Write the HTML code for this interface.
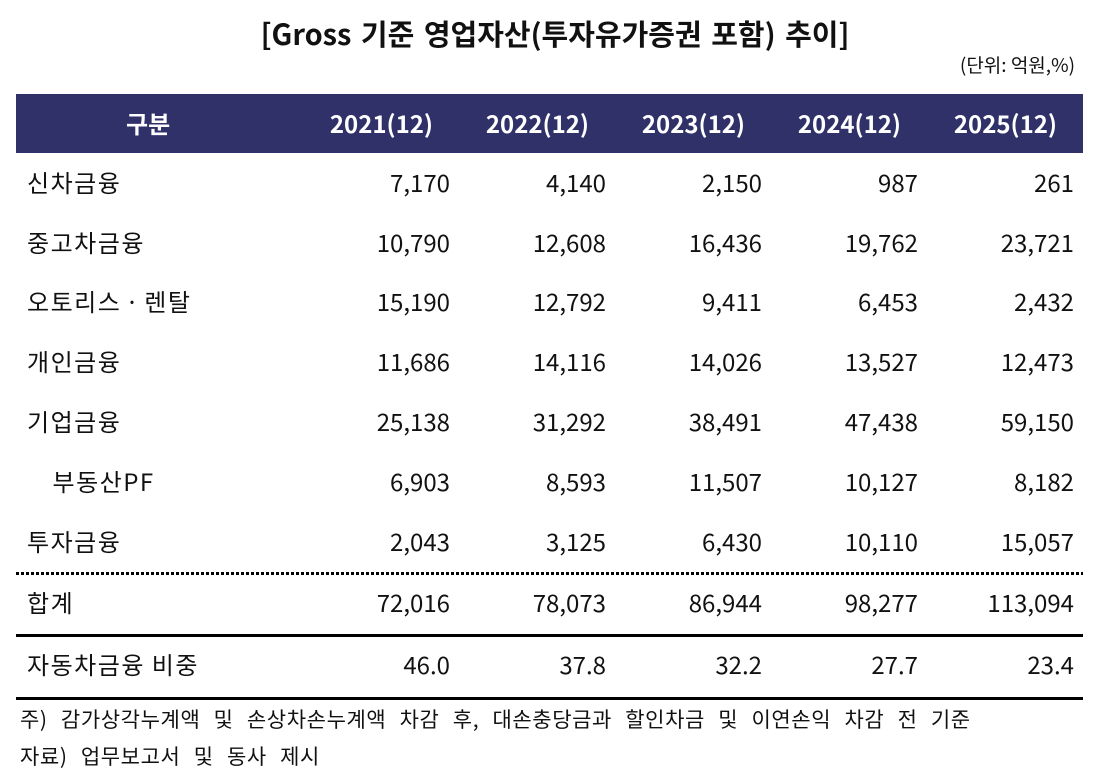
<!DOCTYPE html>
<html><head><meta charset="utf-8"><style>
body{margin:0;width:1110px;height:778px;background:#fff;font-family:"Noto Sans CJK KR","Liberation Sans",sans-serif;color:#111;position:relative;overflow:hidden}
.a{position:absolute;white-space:nowrap;line-height:1}
.t{left:0;width:1110px;text-align:center;top:19px;font-size:29px;font-weight:bold;word-spacing:3px}
.u{right:35px;top:55px;font-size:19px}
.hd{left:16px;top:94px;width:1067px;height:59px;background:#2f3168}
.h{color:#fff;font-weight:bold;font-size:24px;top:111px}
.c{font-size:24px;letter-spacing:1.5px}
.n{font-size:24px;text-align:right;width:150px}
.line{position:absolute;left:16px;width:1067px;height:3px;background:#000}
.dot{position:absolute;left:16px;width:1067px;height:3px;background:repeating-linear-gradient(90deg,#000 0 3px,transparent 3px 5px)}
.f{font-size:21px;left:20px;word-spacing:8px;letter-spacing:0.6px}
</style></head><body>
<div class="a t">[Gross 기준 영업자산(투자유가증권 포함) 추이]</div>
<div class="a u">(단위: 억원,%)</div>
<div class="a hd"></div>
<div class="a h" style="left:126px">구분</div>
<div class="a h" style="right:677px">2021(12)</div>
<div class="a h" style="right:521px">2022(12)</div>
<div class="a h" style="right:365px">2023(12)</div>
<div class="a h" style="right:209px">2024(12)</div>
<div class="a h" style="right:53px">2025(12)</div>
<div id="rows"></div>
<div class="dot" style="top:572px"></div>
<div class="line" style="top:634px"></div>
<div class="line" style="top:697px"></div>
<div class="a f" style="top:709px">주) 감가상각누계액 및 손상차손누계액 차감 후, 대손충당금과 할인차금 및 이연손익 차감 전 기준</div>
<div class="a f" style="top:746px">자료) 업무보고서 및 동사 제시</div>
<script>
var d=[["신차금융",["7,170","4,140","2,150","987","261"],183],
["중고차금융",["10,790","12,608","16,436","19,762","23,721"],243],
["오토리스·렌탈",["15,190","12,792","9,411","6,453","2,432"],302],
["개인금융",["11,686","14,116","14,026","13,527","12,473"],362],
["기업금융",["25,138","31,292","38,491","47,438","59,150"],422],
["　부동산PF",["6,903","8,593","11,507","10,127","8,182"],482],
["투자금융",["2,043","3,125","6,430","10,110","15,057"],542],
["합계",["72,016","78,073","86,944","98,277","113,094"],603],
["자동차금융 비중",["46.0","37.8","32.2","27.7","23.4"],665]];
var h="";d.forEach(function(r){var y=r[2]-13;
var lbl=r[0].replace("·","<span style='margin:0 4px'>·</span>");
h+='<div class="a c" style="left:27px;top:'+y+'px">'+lbl+'</div>';
r[1].forEach(function(v,i){h+='<div class="a n" style="left:'+(300+156*i)+'px;top:'+y+'px">'+v+'</div>'});});
document.getElementById("rows").innerHTML=h;
</script>
</body></html>
